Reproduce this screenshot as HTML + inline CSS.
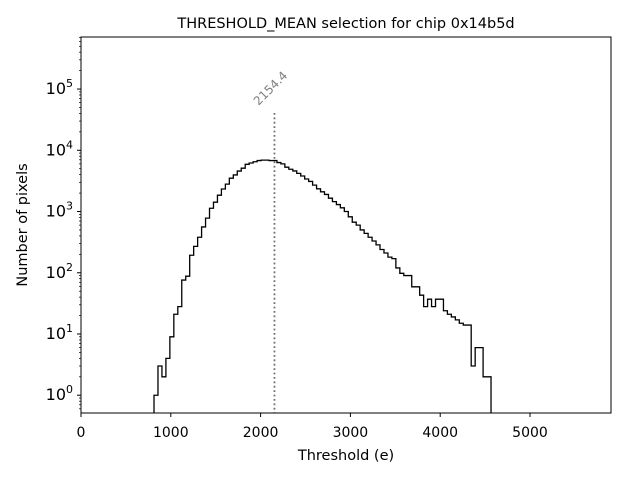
<!DOCTYPE html>
<html><head><meta charset="utf-8"><style>
body{margin:0;background:#fff;}
svg text{font-family:"DejaVu Sans","Liberation Sans",sans-serif;}
</style></head><body>
<svg id="chart" width="640" height="480" xmlns="http://www.w3.org/2000/svg"></svg>
<script>
const binStart = 813;
const binEnd = 4566;
const counts = [1,3,2,4,9,21,28,76,88,193,270,380,560,780,1130,1420,1850,2330,2800,3500,3960,4580,5100,5900,6200,6500,6800,6900,6900,6800,
6800,6300,6000,5300,4900,4600,4200,3800,3400,3100,2700,2350,2100,1900,1650,1450,1300,1150,1000,820,
670,600,500,440,380,330,285,240,210,180,170,120,98,90,90,59,59,43,28,37,
28,37,37,24,21,19,17,15,14,14,3,6,6,2,2];
const medianValue = 2154.4;
const xTicks = [0,1000,2000,3000,4000,5000];
const yTickExps = [0,1,2,3,4,5];

const L=81,R=611,T=37,B=413;
const xMin=0,xMax=5902, yMinLog=-0.29, yMaxLog=5.85;
const xs=v=>L+(v-xMin)/(xMax-xMin)*(R-L);
const ys=v=>B-(Math.log10(v)-yMinLog)/(yMaxLog-yMinLog)*(B-T);
const svg=document.getElementById('chart');
const NS='http://www.w3.org/2000/svg';
function mk(tag,attrs,parent){const e=document.createElementNS(NS,tag);for(const k in attrs)e.setAttribute(k,attrs[k]);(parent||svg).appendChild(e);return e;}

const w=(binEnd-binStart)/counts.length;
let d='M'+xs(binStart)+','+B;
counts.forEach((c,i)=>{const y=c>0?ys(c):B+5;d+=' L'+xs(binStart+i*w)+','+y+' L'+xs(binStart+(i+1)*w)+','+y;});
d+=' L'+xs(binEnd)+','+B;
const cp=mk('clipPath',{id:'pc'});mk('rect',{x:L,y:T,width:R-L,height:B-T},cp);
const hist=mk('path',{d:d,fill:'none',stroke:'#000','stroke-width':1.3,'clip-path':'url(#pc)'});



const mx=xs(medianValue);
const ml=mk('line',{x1:mx,y1:113,x2:mx,y2:B,stroke:'#707070','stroke-width':1.8,'stroke-dasharray':'1.8,2.6'});


const mt=mk('text',{x:mx-16,y:106,fill:'#808080','font-size':12,transform:'rotate(-45 '+(mx-16)+' 106)'});
mt.textContent=medianValue.toFixed(1);



const fr=mk('rect',{x:L,y:T,width:R-L,height:B-T,fill:'none',stroke:'#000','stroke-width':1});



xTicks.forEach(v=>{const x=xs(v);mk('line',{x1:x,y1:B,x2:x,y2:B+4,stroke:'#000'});
const t=mk('text',{x:x,y:B+24,'text-anchor':'middle','font-size':14});t.textContent=v;

});
yTickExps.forEach(e=>{const y=ys(Math.pow(10,e));mk('line',{x1:L-4,y1:y,x2:L,y2:y,stroke:'#000'});
const t=mk('text',{x:L-8,y:y+5,'text-anchor':'end','font-size':16});t.textContent='10';
const s=mk('tspan',{dy:-7,'font-size':11},t);s.textContent=e;

});
for(let e=-1;e<6;e++)for(let m=2;m<10;m++){const v=m*Math.pow(10,e);const lv=Math.log10(v);if(lv<yMinLog||lv>yMaxLog)continue;const y=ys(v);mk('line',{x1:L-2,y1:y,x2:L,y2:y,stroke:'#000','stroke-width':0.7});}

const ti=mk('text',{x:346,y:28,'text-anchor':'middle','font-size':14.5});ti.textContent='THRESHOLD_MEAN selection for chip 0x14b5d';

const xl=mk('text',{x:346,y:460,'text-anchor':'middle','font-size':14.5});xl.textContent='Threshold (e)';

const yl=mk('text',{x:27,y:225,'text-anchor':'middle','font-size':14.5,transform:'rotate(-90 27 225)'});yl.textContent='Number of pixels';

</script>
</body></html>
